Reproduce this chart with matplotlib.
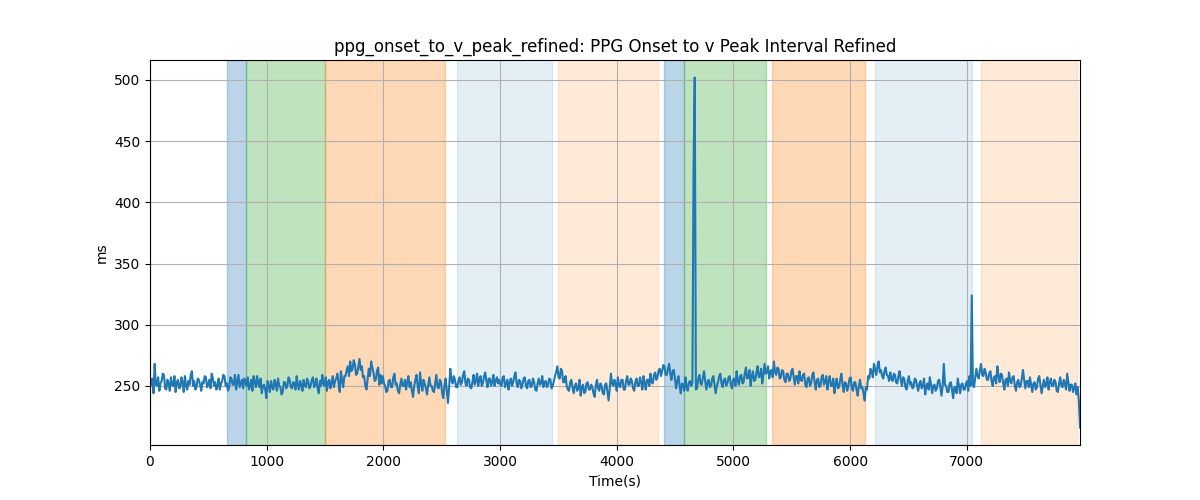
import matplotlib
matplotlib.use('Agg')
import matplotlib.pyplot as plt
import numpy as np

# values, one sample every ~10 s
ms_values = [
    # 0 - 990
    248, 253, 256, 244, 268, 251, 250, 257, 246, 252, 254, 260, 259, 248, 247, 255, 252, 246, 257, 251,
    250, 258, 245, 253, 255, 248, 249, 257, 253, 245, 258, 250, 247, 254, 251, 259, 262, 250, 254, 247,
    249, 256, 255, 251, 246, 253, 252, 258, 257, 249, 251, 255, 248, 260, 256, 250, 253, 247, 250, 256,
    247, 252, 254, 259, 258, 250, 252, 246, 249, 257, 256, 251, 251, 259, 247, 253, 259, 249, 252, 255,
    248, 256, 254, 250, 257, 247, 250, 255, 246, 258, 253, 249, 258, 252, 249, 256, 244, 250, 251, 247,
    # 1000 - 1990
    240, 254, 250, 245, 254, 249, 247, 255, 252, 246, 256, 250, 249, 243, 245, 253, 253, 248, 250, 257,
    255, 249, 248, 253, 252, 247, 258, 251, 247, 254, 251, 246, 255, 250, 249, 256, 253, 248, 250, 255,
    257, 249, 251, 256, 248, 244, 254, 250, 259, 252, 250, 257, 246, 253, 255, 248, 252, 258, 249, 254,
    256, 260, 252, 245, 262, 255, 249, 258, 258, 263, 266, 258, 270, 262, 264, 271, 268, 259, 260, 266,
    272, 263, 266, 257, 258, 250, 247, 256, 264, 258, 270, 265, 261, 254, 255, 262, 265, 251, 259, 252,
    # 2000 - 2990
    258, 252, 250, 245, 246, 254, 255, 249, 249, 257, 260, 251, 252, 246, 244, 251, 256, 250, 250, 255,
    247, 253, 258, 249, 253, 246, 241, 250, 255, 259, 249, 244, 261, 252, 246, 255, 252, 248, 243, 251,
    257, 250, 250, 246, 245, 252, 259, 249, 248, 255, 253, 244, 240, 250, 256, 246, 236, 249, 264, 255,
    252, 258, 255, 249, 249, 254, 257, 251, 253, 259, 262, 252, 250, 256, 255, 249, 248, 253, 259, 251,
    254, 260, 250, 255, 258, 250, 252, 258, 261, 254, 249, 256, 256, 250, 253, 259, 250, 254, 257, 252,
    # 3000 - 3990
    255, 251, 250, 257, 258, 249, 252, 255, 247, 253, 256, 250, 253, 258, 261, 252, 249, 255, 254, 248,
    251, 256, 257, 250, 248, 254, 255, 249, 250, 256, 253, 247, 246, 252, 256, 251, 252, 258, 249, 253,
    254, 249, 251, 256, 255, 248, 250, 254, 258, 262, 266, 257, 256, 264, 262, 253, 253, 258, 250, 247,
    246, 253, 255, 249, 244, 250, 252, 246, 248, 255, 242, 249, 251, 244, 245, 252, 253, 247, 247, 251,
    249, 244, 241, 250, 255, 248, 246, 252, 250, 244, 243, 251, 252, 245, 238, 248, 260, 252, 250, 255,
    # 4000 - 4990
    252, 246, 257, 250, 249, 255, 255, 247, 247, 254, 258, 251, 251, 256, 254, 248, 246, 253, 256, 250,
    250, 257, 253, 247, 258, 252, 247, 255, 255, 250, 260, 253, 252, 259, 261, 255, 257, 263, 264, 258,
    262, 267, 266, 259, 259, 264, 268, 260, 255, 262, 263, 256, 248, 254, 258, 250, 244, 252, 251, 246,
    257, 249, 246, 253, 254, 250, 252, 429, 502, 247, 248, 256, 259, 252, 251, 257, 262, 254, 247, 253,
    255, 249, 250, 256, 258, 251, 244, 250, 253, 258, 260, 252, 249, 255, 256, 250, 252, 257, 258, 251,
    # 5000 - 5990
    248, 255, 256, 250, 262, 254, 251, 258, 259, 252, 253, 260, 265, 256, 257, 263, 250, 258, 262, 254,
    255, 261, 266, 257, 258, 264, 252, 259, 268, 260, 261, 266, 256, 262, 263, 257, 270, 261, 259, 265,
    264, 256, 257, 263, 262, 255, 253, 260, 260, 254, 255, 262, 264, 257, 251, 258, 258, 252, 262, 255,
    254, 259, 260, 251, 249, 256, 257, 250, 252, 259, 261, 253, 247, 255, 256, 249, 250, 257, 259, 251,
    253, 258, 247, 254, 258, 250, 250, 256, 244, 252, 256, 248, 249, 255, 260, 251, 245, 253, 252, 246,
    # 6000 - 6990
    250, 256, 257, 248, 246, 253, 253, 247, 242, 250, 255, 248, 249, 244, 238, 249, 247, 258, 256, 264,
    262, 257, 268, 263, 259, 266, 270, 261, 263, 258, 256, 262, 265, 259, 258, 254, 261, 256, 254, 260,
    259, 253, 252, 258, 262, 255, 250, 257, 256, 249, 247, 254, 258, 251, 253, 248, 249, 256, 255, 250,
    246, 252, 254, 248, 250, 256, 243, 250, 252, 247, 257, 251, 244, 250, 251, 246, 248, 254, 255, 249,
    242, 250, 268, 251, 250, 245, 245, 252, 253, 247, 240, 249, 249, 244, 256, 250, 244, 251, 252, 247,
    # 7000 - end
    247, 252, 254, 246, 258, 250, 324, 251, 249, 257, 264, 258, 256, 263, 268, 259, 258, 264, 261, 255,
    255, 260, 262, 254, 250, 257, 258, 252, 266, 258, 253, 260, 259, 252, 247, 255, 256, 250, 261, 254,
    252, 257, 258, 250, 246, 253, 255, 249, 250, 256, 263, 255, 248, 254, 254, 249, 257, 251, 245, 252,
    253, 247, 249, 256, 258, 251, 244, 250, 255, 249, 251, 257, 247, 253, 256, 250, 250, 255, 253, 246,
    245, 252, 257, 250, 249, 255, 252, 247, 260, 253, 246, 251, 251, 245, 248, 252, 243, 249, 238, 216,
]
t_end = 7970
time_s = np.linspace(0, t_end, len(ms_values))

# shaded segments: (start, end, colour, alpha)
span_starts = [657, 823, 1503, 2634, 3500, 4408, 4574, 5334, 6214, 7123]
span_ends = [823, 1503, 2528, 3443, 4351, 4574, 5277, 6129, 7043, 7943]
span_colors = ['tab:blue', 'tab:green', 'tab:orange', 'tab:blue', 'tab:orange',
               'tab:blue', 'tab:green', 'tab:orange', 'tab:blue', 'tab:orange']
span_alphas = [0.3, 0.3, 0.3, 0.12, 0.16, 0.3, 0.3, 0.3, 0.12, 0.16]

fig, ax = plt.subplots(figsize=(12, 5))
for s, e, c, a in zip(span_starts, span_ends, span_colors, span_alphas):
    ax.axvspan(s, e, color=c, alpha=a)
ax.plot(time_s, ms_values, color='tab:blue', linewidth=1.5)
ax.set_xlim(0, t_end)
ax.set_title('ppg_onset_to_v_peak_refined: PPG Onset to v Peak Interval Refined')
ax.set_xlabel('Time(s)')
ax.set_ylabel('ms')
ax.grid(True)

fig.savefig('out.png', dpi=100)
plt.close()
